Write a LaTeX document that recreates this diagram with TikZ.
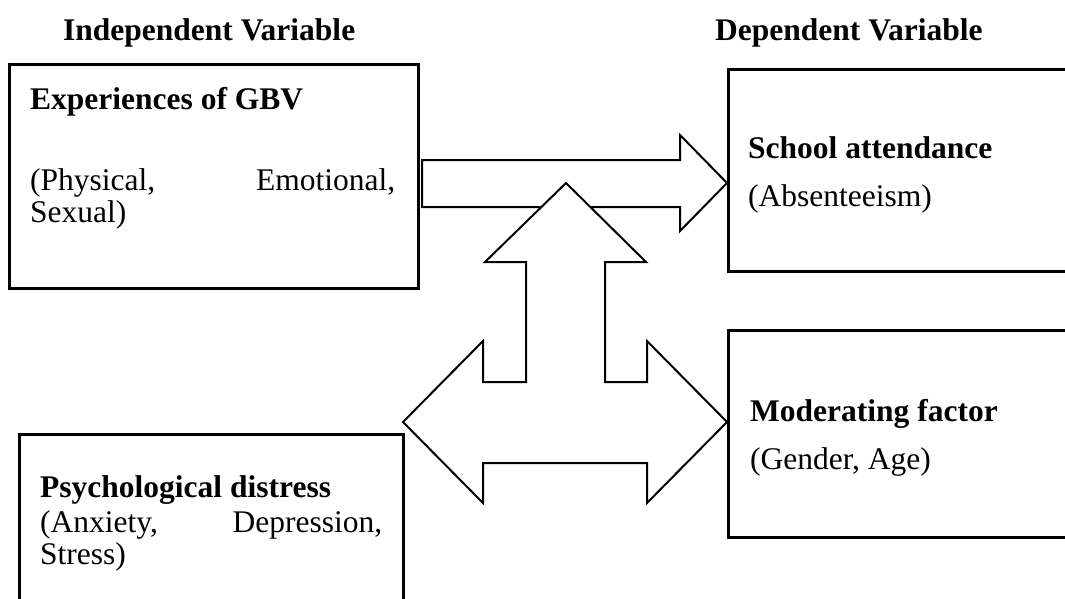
\documentclass[tikz,border=0pt]{standalone}
\usepackage{fontspec}
\setmainfont{Liberation Serif}
\usetikzlibrary{positioning}

\begin{document}
\begin{tikzpicture}[
  x=1pt, y=-1pt,
  font=\fontsize{31.5}{32.5}\selectfont,
  % Framed variable box (the right and bottom ones run off the page)
  box/.style={rectangle, draw, line width=2.6pt, anchor=north west,
              inner sep=0pt},
  % Bold heading (column titles and box titles)
  hdr/.style={anchor=base west, inner sep=0pt,
              font=\fontsize{31.5}{32.5}\selectfont\bfseries},
  % Plain sub-items under a heading
  itm/.style={anchor=base west, inner sep=0pt},
  % Outlined block arrow
  blk/.style={draw, fill=white, line width=2pt, line join=miter}
]

\path[use as bounding box, clip] (0,0) rectangle (1065,599);

% ── Column headers ─────────────────────────────────────────────────────────
\node[hdr] (indep) at (63,41)  {Independent Variable};
\node[hdr] (dep)   at (715,41) {Dependent Variable};

% ── Boxes ──────────────────────────────────────────────────────────────────
\node[box, minimum width=409pt, minimum height=224pt] (gbv) at (8,63)    {};
\node[box, minimum width=400pt, minimum height=202pt] (sch) at (727,68)  {};
\node[box, minimum width=400pt, minimum height=207pt] (mod) at (727,329) {};
\node[box, minimum width=384pt, minimum height=220pt] (psy) at (18,433)  {};

% ── Box texts ──────────────────────────────────────────────────────────────
\node[hdr] (gbvT) at (30,110) {Experiences of GBV};
\node[itm] (gbvI) at (30,190)
  {\parbox[t]{365pt}{\fontsize{31.5}{32.5}\selectfont
   (Physical,\hfill Emotional,\\Sexual)}};

\node[hdr] (schT) at (748,158) {School attendance};
\node[itm] (schI) at (748,206) {(Absenteeism)};

\node[hdr] (modT) at (750,421) {Moderating factor};
\node[itm] (modI) at (750,469) {(Gender, Age)};

\node[hdr] (psyT) at (40,497) {Psychological distress};
\node[itm] (psyI) at (40,532)
  {\parbox[t]{342pt}{\fontsize{31.5}{32.5}\selectfont
   (Anxiety,\hfill Depression,\\Stress)}};

% ── Block arrows ───────────────────────────────────────────────────────────
% GBV -> school attendance
\draw[blk] (422,160) -- (680,160) -- (680,135) -- (727,183)
           -- (680,231) -- (680,207) -- (422,207) -- cycle;
% left / right / up arrow from the distress box region
\draw[blk] (403,422) -- (483,341) -- (483,382) -- (526,382) -- (526,262)
           -- (485,262) -- (566,183) -- (646,262) -- (605,262) -- (605,382)
           -- (647,382) -- (647,341) -- (727,422) -- (647,503) -- (647,463)
           -- (483,463) -- (483,503) -- cycle;

\end{tikzpicture}
\end{document}
